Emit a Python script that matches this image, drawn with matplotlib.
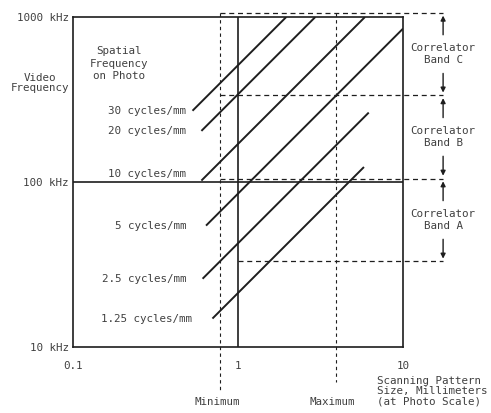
import matplotlib
matplotlib.use("Agg")
import matplotlib.pyplot as plt

# spatial frequency on the photo (cycles/mm) for each scan line
spatial_freq = [30, 20, 10, 5, 2.5, 1.25]
spatial_labels = ["30 cycles/mm", "20 cycles/mm", "10 cycles/mm",
                  "5 cycles/mm", "2.5 cycles/mm", "1.25 cycles/mm"]
# scanning pattern size (mm) where each line starts and stops
line_start = [0.53, 0.60, 0.60, 0.64, 0.61, 0.70]
line_stop = [1.96, 2.94, 5.88, 10.0, 6.2, 5.8]
# video frequency per (cycle/mm * mm), kHz
scan_rate = 17.0

# correlator band edges (kHz)
band_edges = [33, 105, 335, 1060]
band_names = ["Correlator\nBand A", "Correlator\nBand B", "Correlator\nBand C"]

# scanning pattern size limits (mm)
size_min = 0.78
size_max = 3.93

y_ticks = [10, 100, 1000]
y_tick_labels = ["10 kHz", "100 kHz", "1000 kHz"]
x_ticks = [0.1, 1, 10]
x_tick_labels = ["0.1", "1", "10"]

ink = "#1e1e1e"
txt = "#404040"
font = "DejaVu Sans Mono"
fs = 7.8

fig = plt.figure(figsize=(4.91, 4.13), dpi=100)
ax = fig.add_axes([73 / 491, 66 / 413, 330 / 491, 330 / 413])
ax.set_xscale("log")
ax.set_yscale("log")
ax.set_xlim(0.1, 10)
ax.set_ylim(10, 1000)

for s in ax.spines.values():
    s.set_color(ink)
    s.set_linewidth(1.2)

ax.set_xticks(x_ticks)
ax.set_xticklabels(x_tick_labels, fontfamily=font, fontsize=fs, color=txt)
ax.get_xticklabels()[0].set_x(0.11)
ax.set_yticks(y_ticks)
ax.set_yticklabels(y_tick_labels, fontfamily=font, fontsize=fs, color=txt)
ax.minorticks_off()
ax.tick_params(length=0, pad=10)
ax.tick_params(axis="y", pad=3)

# solid reference lines at 1 mm and 100 kHz
ax.axvline(1, color=ink, lw=1.2)
ax.axhline(100, color=ink, lw=1.2)

# constant spatial frequency lines, labels lined up on the left
label_x = 0.485
for sf, lab, x0, x1 in zip(spatial_freq, spatial_labels, line_start, line_stop):
    k = scan_rate * sf
    ax.plot([x0, x1], [k * x0, k * x1], color=ink, lw=1.4, solid_capstyle="butt")
    dy = 5 if sf == 10 else 0
    lx = label_x * 1.08 if sf == 1.25 else label_x
    ax.annotate(lab, (lx, k * x0), xytext=(0, dy), textcoords="offset points",
                ha="right", va="center", fontfamily=font, fontsize=fs, color=txt)

# dashed band and size limits, running outside the frame
x_arrow = 17.5
dash = dict(color=ink, lw=0.9, ls=(0, (4, 3)), clip_on=False)
ax.plot([size_min, x_arrow], [band_edges[3]] * 2, **dash)
ax.plot([size_min, x_arrow], [band_edges[2]] * 2, **dash)
ax.plot([size_min, x_arrow], [band_edges[1]] * 2, **dash)
ax.plot([1, x_arrow], [band_edges[0]] * 2, **dash)
vdash = dict(color=ink, lw=0.8, ls=(0, (3, 3)), clip_on=False)
ax.plot([size_min, size_min], [band_edges[3], 5.5], **vdash)
ax.plot([size_max, size_max], [band_edges[3], 6.1], **vdash)

# band labels with arrows out to the band edges
for name, lo, hi in zip(band_names, band_edges[:-1], band_edges[1:]):
    mid = (lo * hi) ** 0.5
    ax.text(x_arrow, mid, name, ha="center", va="center", fontfamily=font,
            fontsize=fs, color=txt, linespacing=1.25)
    arr = dict(arrowstyle="-|>", color=ink, lw=1.0, mutation_scale=7)
    ax.annotate("", xy=(x_arrow, hi), xytext=(x_arrow, mid * 1.26),
                arrowprops=arr, annotation_clip=False)
    ax.annotate("", xy=(x_arrow, lo), xytext=(x_arrow, mid / 1.26),
                arrowprops=arr, annotation_clip=False)

ax.text(0.19, 520, "Spatial\nFrequency\non Photo", ha="center", va="center",
        fontfamily=font, fontsize=fs, color=txt, linespacing=1.3)
fig.text(40 / 491, 1 - 83 / 413, "Video\nFrequency", ha="center", va="center",
         fontfamily=font, fontsize=fs, color=txt, linespacing=1.05)
fig.text(377 / 491, 1 - 391 / 413, "Scanning Pattern\nSize, Millimeters\n(at Photo Scale)",
         ha="left", va="center", fontfamily=font, fontsize=fs, color=txt,
         linespacing=1.0)
fig.text(217 / 491, 1 - 402 / 413, "Minimum", ha="center", va="center",
         fontfamily=font, fontsize=fs, color=txt)
fig.text(332 / 491, 1 - 402 / 413, "Maximum", ha="center", va="center",
         fontfamily=font, fontsize=fs, color=txt)

fig.savefig("out.png", dpi=100)
